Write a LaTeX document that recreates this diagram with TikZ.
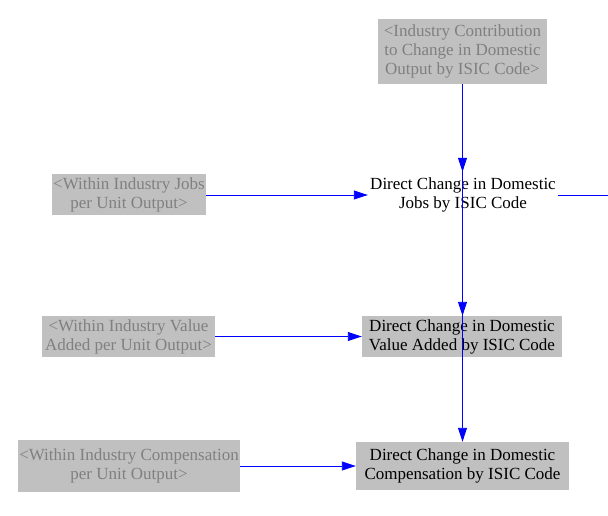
\documentclass[tikz,border=0pt]{standalone}
\usepackage{fontspec}
\setmainfont{Liberation Serif}
\usetikzlibrary{arrows.meta}
\definecolor{boxgray}{RGB}{192,192,192}
\definecolor{txtgray}{RGB}{128,128,128}
\definecolor{linkblue}{RGB}{0,0,255}
\tikzset{
  shadowbox/.style={fill=boxgray, text=txtgray, align=center, inner sep=0pt, font=\fontsize{17}{19}\selectfont},
  varbox/.style={fill=boxgray, text=black, align=center, inner sep=0pt, font=\fontsize{17}{19}\selectfont},
  varplain/.style={text=black, align=center, inner sep=0pt, font=\fontsize{17}{19}\selectfont},
  link/.style={draw=linkblue, line width=0.9pt, -{Triangle[length=14pt,width=9pt]}},
  linkplain/.style={draw=linkblue, line width=0.9pt}
}
\begin{document}
\begin{tikzpicture}[x=1pt,y=-1pt]
\useasboundingbox (0,0) rectangle (608,516);
\node[shadowbox, minimum width=169pt, minimum height=65pt] (top) at (462.5,51.5)
  {<Industry Contribution\\to Change in Domestic\\Output by ISIC Code>};
\node[varplain, minimum width=190pt, minimum height=46pt] (jobs) at (463,195)
  {Direct Change in Domestic\\Jobs by ISIC Code};
\node[varbox, minimum width=200pt, minimum height=41pt] (va) at (462,336.5)
  {Direct Change in Domestic\\Value Added by ISIC Code};
\node[varbox, minimum width=213pt, minimum height=48pt] (comp) at (462.5,466)
  {Direct Change in Domestic\\Compensation by ISIC Code};
\node[shadowbox, minimum width=154pt, minimum height=41pt] (lj) at (129,194.5)
  {<Within Industry Jobs\\per Unit Output>};
\node[shadowbox, minimum width=173pt, minimum height=41pt] (lv) at (128.5,336.5)
  {<Within Industry Value\\Added per Unit Output>};
\node[shadowbox, minimum width=222pt, minimum height=52pt] (lc) at (129,466)
  {<Within Industry Compensation\\per Unit Output>};
\coordinate (out) at (608,195);
\draw[link] (top.south) -- (top.south |- jobs.north);
\draw[link] (top.south) -- (top.south |- va.north);
\draw[link] (top.south) -- (top.south |- comp.north);
\draw[link] (lj.east |- jobs.west) -- (jobs.west);
\draw[link] (lv.east |- va.west) -- (va.west);
\draw[link] (lc.east |- comp.west) -- (comp.west);
\draw[linkplain] (jobs.east) -- (out);
\end{tikzpicture}
\end{document}
